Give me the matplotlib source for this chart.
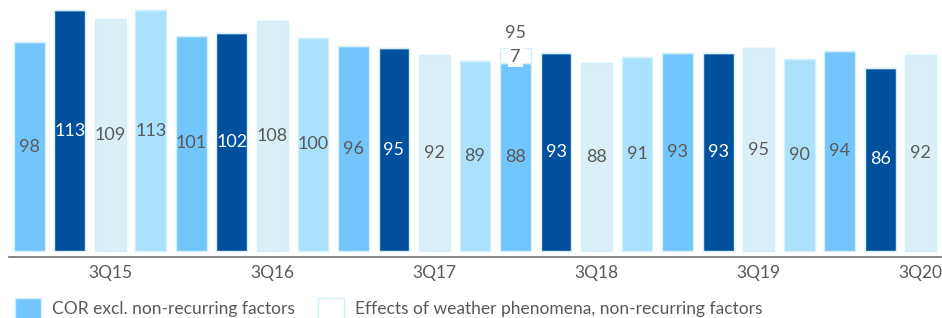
import matplotlib
matplotlib.use("Agg")
import matplotlib.pyplot as plt
import matplotlib.patches as mpatches
import numpy as np

plt.rcParams["font.family"] = ["Lato", "DejaVu Sans"]

# quarterly combined operating ratio, 1Q15 .. 3Q20
QUARTERS = [f"{q}Q{y}" for y in range(15, 21) for q in range(1, 5)][:23]
COR = [98, 113, 109, 113, 101, 102, 108, 100, 96, 95, 92, 89,
       88, 93, 88, 91, 93, 93, 95, 90, 94, 86, 92]
WEATHER = [0] * 23
WEATHER[12] = 7

Q_COLORS = {"1": "#73c6fb", "2": "#00509e", "3": "#daf0f9", "4": "#aae1fd"}
EDGE = "#d3effb"
TXT = "#595959"
FS = 12.5

x = np.arange(len(QUARTERS))
colors = [Q_COLORS[q[0]] for q in QUARTERS]

fig = plt.figure(figsize=(9.42, 3.18), dpi=100)
ax = fig.add_axes([9 / 942, 61 / 318, 932 / 942, 257 / 318])

ax.bar(x, COR, width=0.76, color=colors, edgecolor=EDGE, linewidth=1)
ax.bar(x, WEATHER, bottom=COR, width=0.76, color="white", edgecolor=EDGE, linewidth=1)

for i, (v, w, q) in enumerate(zip(COR, WEATHER, QUARTERS)):
    c = "white" if q[0] == "2" else TXT
    ax.text(i, v / 2, str(v), ha="center", va="center", fontsize=13, color=c)
    if w:
        ax.text(i, v + w / 2 - 0.5, str(w), ha="center", va="center", fontsize=13, color=TXT,
                bbox=dict(facecolor="white", edgecolor="none", pad=1.5))
        ax.text(i, v + w + 7, str(v + w), ha="center", va="center", fontsize=13, color=TXT)

ax.set_xlim(-0.5, 22.5)
ax.set_ylim(-2.8, 117.7)
ticks = [i for i, q in enumerate(QUARTERS) if q.startswith("3Q")]
ax.set_xticks(ticks)
ax.set_xticklabels([QUARTERS[i] for i in ticks], fontsize=FS, color=TXT)
ax.tick_params(axis="x", length=0, pad=6)
ax.set_yticks([])
for s in ["top", "right", "left"]:
    ax.spines[s].set_visible(False)
ax.spines["bottom"].set_color("#707070")
ax.spines["bottom"].set_linewidth(1.2)

handles = [mpatches.Patch(facecolor=Q_COLORS["1"], edgecolor=EDGE, label="COR excl. non-recurring factors"),
           mpatches.Patch(facecolor="white", edgecolor=EDGE, label="Effects of weather phenomena, non-recurring factors")]
fig.legend(handles=handles, loc="upper left", bbox_to_anchor=(15 / 942, 20 / 318), ncol=2,
           frameon=False, fontsize=FS, labelcolor=TXT, handlelength=1.5, handleheight=1.5,
           handletextpad=0.63, columnspacing=1.32, borderaxespad=0, borderpad=0)

fig.savefig("out.png", dpi=100)
